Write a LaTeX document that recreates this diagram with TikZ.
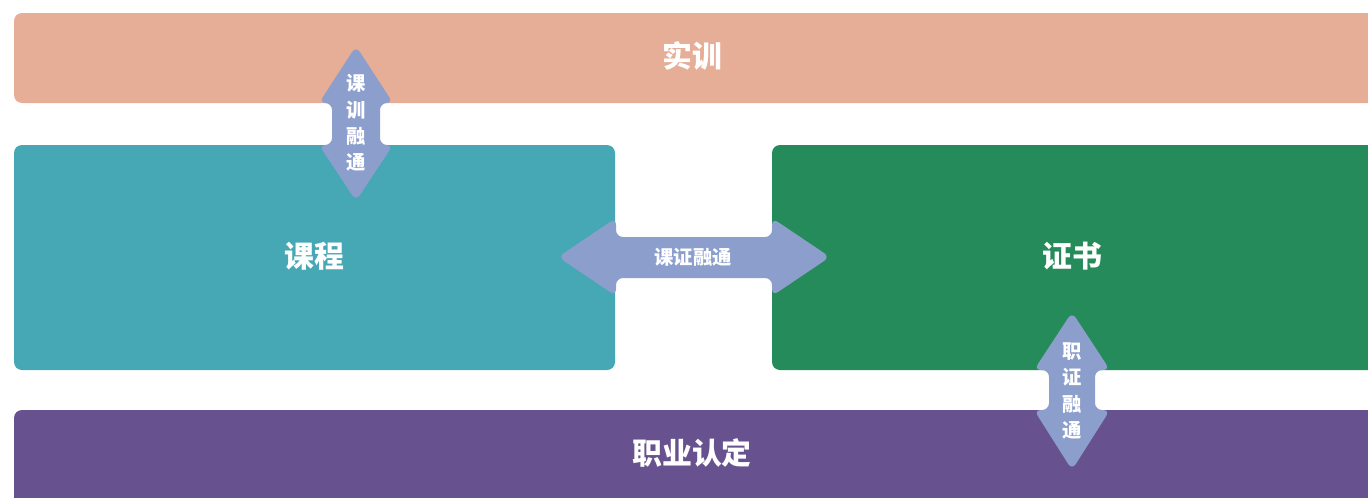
\documentclass[tikz,border=0pt]{standalone}
\usepackage{fontspec}
\newfontfamily\cjk{Noto Sans CJK SC}
\usepackage{tikz}

\definecolor{shixunC}{HTML}{E6AD97}
\definecolor{kechengC}{HTML}{47A8B5}
\definecolor{zhengshuC}{HTML}{268B5A}
\definecolor{zhiyeC}{HTML}{67528F}
\definecolor{rongtongC}{HTML}{8B9ECC}

\tikzset{
  block/.style = {rounded corners=0.16cm},
  title/.style = {text=white, font=\cjk\bfseries\fontsize{17}{20}\selectfont},
  fuse/.style = {fill=rongtongC, rounded corners=0.14cm},
  fusetext/.style = {text=white, align=center, inner sep=0pt,
    font=\cjk\bfseries\fontsize{11}{15}\selectfont}
}

\begin{document}
\begin{tikzpicture}[x=0.02cm, y=-0.02cm]
\useasboundingbox (0,0) rectangle (1368,497);
% bands and blocks
\fill[block, shixunC]   (14,13)  rectangle (1380,103);
\fill[block, kechengC]  (14,145) rectangle (615,370);
\fill[block, zhengshuC] (772,145) rectangle (1380,370);
\fill[block, zhiyeC]    (14,410) rectangle (1380,510);
\node[title] (shixun) at (692,56) {实训};
\node[title] (kecheng) at (314,256) {课程};
\node[title] (zhengshu) at (1072,256) {证书};
\node[title] (zhiye) at (692,453) {职业认定};
% fusion arrows
\fill[fuse] (356,46) -- (393,103) -- (380,103) -- (380,145) -- (393,145)
  -- (356,201) -- (319,145) -- (332,145) -- (332,103) -- (319,103) -- cycle;
\fill[fuse] (558,257) -- (616,218) -- (616,237) -- (772,237) -- (772,218)
  -- (830,257) -- (772,296) -- (772,278) -- (616,278) -- (616,296) -- cycle;
\fill[fuse] (1072,312) -- (1110,370) -- (1095,370) -- (1095,410) -- (1110,410)
  -- (1072,470) -- (1034,410) -- (1049,410) -- (1049,370) -- (1034,370) -- cycle;
\node[fusetext] (kexun) at (356,123) {课\\训\\融\\通};
\node[fusetext] (kezheng) at (693,257) {课证融通};
\node[fusetext] (zhizheng) at (1072,391) {职\\证\\融\\通};
\end{tikzpicture}
\end{document}
